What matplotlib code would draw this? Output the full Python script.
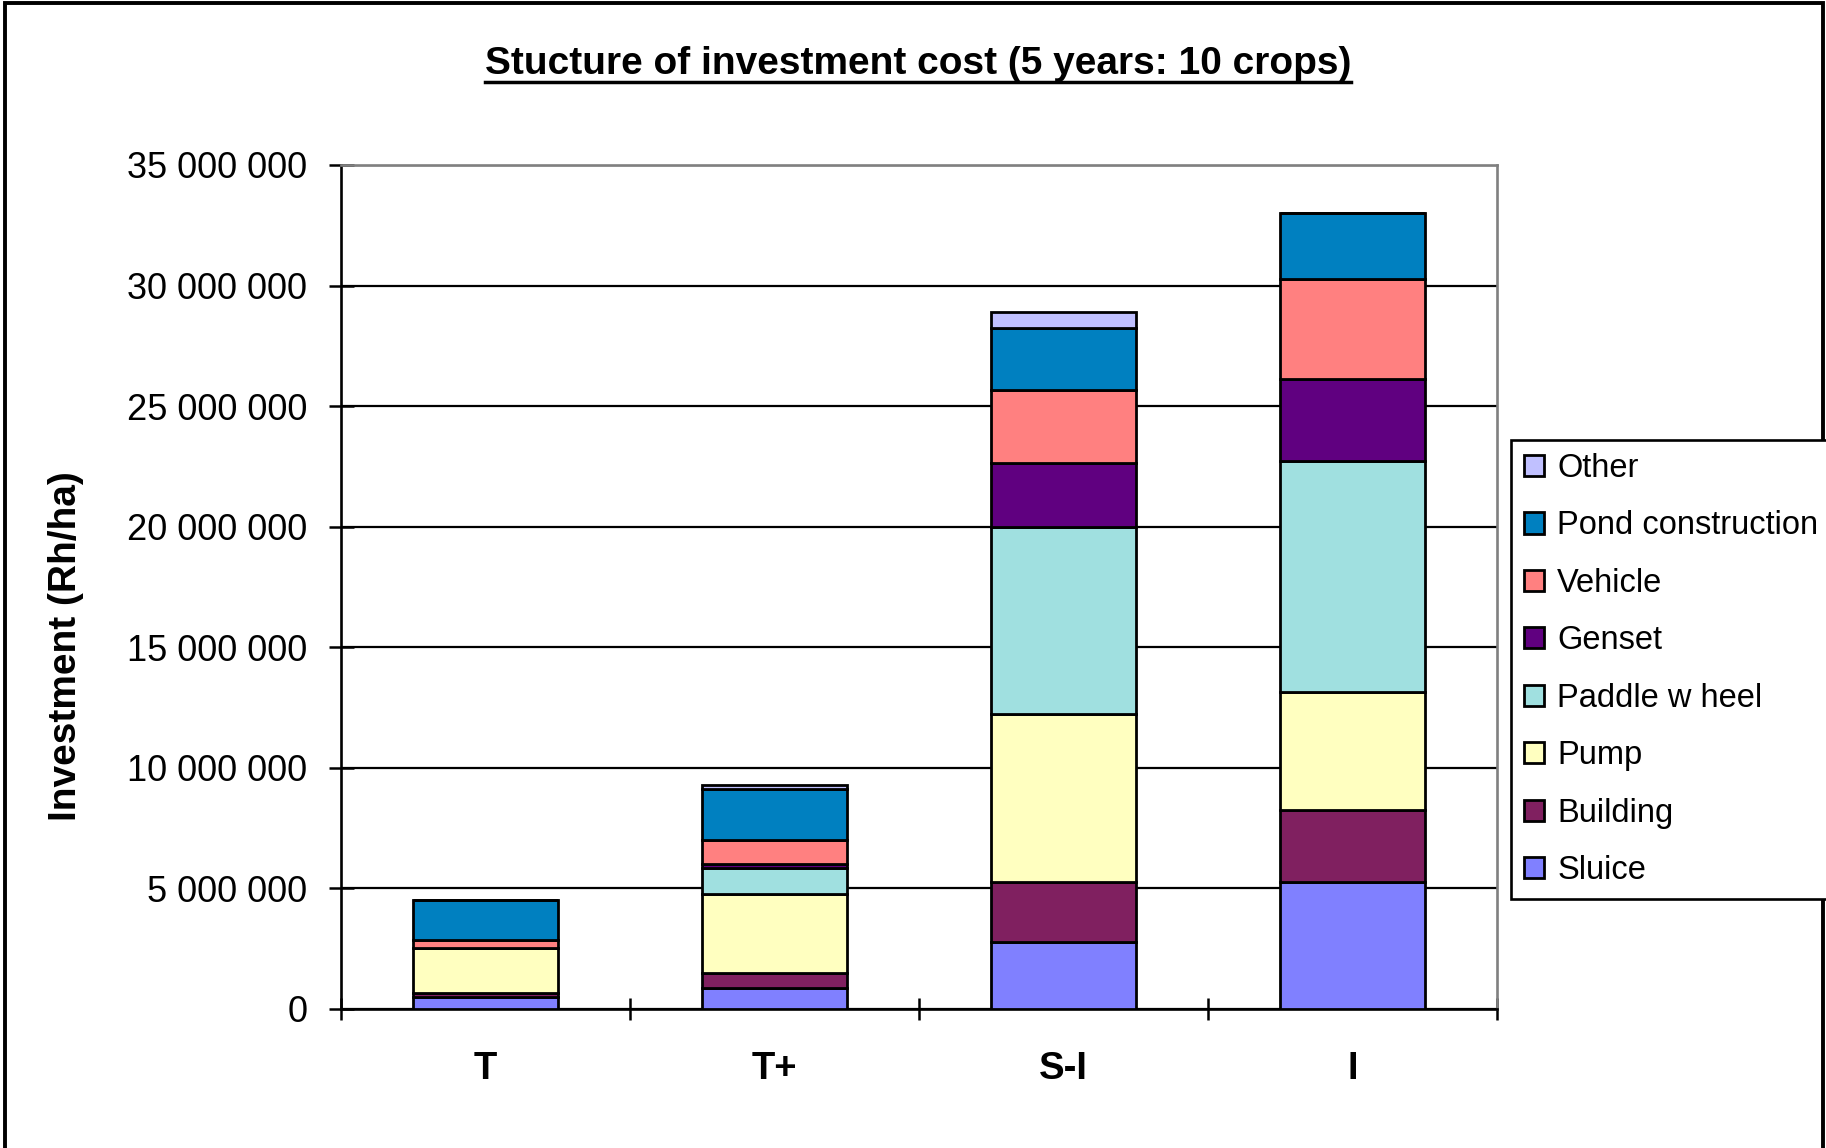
import numpy as np
import matplotlib
matplotlib.use('Agg')
import matplotlib.pyplot as plt
from matplotlib.ticker import FuncFormatter
from matplotlib.lines import Line2D
from matplotlib.patches import Rectangle

plt.rcParams['font.family'] = ['Liberation Sans', 'DejaVu Sans']

# datos (Rh/ha)
categorias = ['T', 'T+', 'S-I', 'I']
sluice   = [490000, 860000, 2760000, 5260000]
building = [160000, 630000, 2500000, 3000000]
pump     = [1880000, 3260000, 6960000, 4870000]
paddle   = [0, 1100000, 7780000, 9610000]
genset   = [0, 180000, 2630000, 3400000]
vehicle  = [350000, 980000, 3030000, 4140000]
pond     = [1630000, 2100000, 2600000, 2730000]
other    = [0, 180000, 640000, 0]

series = ['Sluice', 'Building', 'Pump', 'Paddle w heel', 'Genset', 'Vehicle', 'Pond construction', 'Other']
valores = [sluice, building, pump, paddle, genset, vehicle, pond, other]
colores = ['#8080FF', '#802060', '#FFFFC0', '#A0E0E0', '#600080', '#FF8080', '#0080C0', '#C0C0FF']

W, H = 1826, 1148
fig = plt.figure(figsize=(W/100, H/100), dpi=100)
ax = fig.add_axes([340.7/W, 1-1009/H, (1497-340.7)/W, (1009-165)/H])

x = np.arange(len(categorias))
base = np.zeros(len(categorias))
for nombre, val, col in zip(series, valores, colores):
    ax.bar(x, val, width=0.5, bottom=base, color=col, edgecolor='black', linewidth=2.0, label=nombre, zorder=3)
    base = base + np.array(val)

#-------------------------configuración estilo-------------------------
ax.set_xlim(-0.5, 3.5)
ax.set_ylim(0, 35000000)
ax.set_yticks(np.arange(0, 35000001, 5000000))
ax.yaxis.set_major_formatter(FuncFormatter(lambda v, p: f"{int(v):,}".replace(",", " ")))
ax.yaxis.grid(True, color='black', linewidth=1.6)
ax.set_axisbelow(True)

ax.set_xticks([-0.5, 0.5, 1.5, 2.5, 3.5])
ax.set_xticklabels([])
ax.set_xticks(x, labels=categorias, minor=True)
ax.tick_params(axis='x', which='minor', length=0, pad=30, labelsize=27.5)
for t in ax.get_xticklabels(minor=True):
    t.set_fontweight('bold')
ax.tick_params(axis='x', which='major', direction='inout', length=16, width=1.8)
ax.tick_params(axis='y', direction='inout', length=18, width=1.8, labelsize=26, pad=15)

for s in ['left', 'bottom']:
    ax.spines[s].set_color('black')
    ax.spines[s].set_linewidth(1.9)
for s in ['top', 'right']:
    ax.spines[s].set_color('#808080')
    ax.spines[s].set_linewidth(1.9)

fig.text(66/W, 1-646/H, 'Investment (Rh/ha)', rotation=90, ha='center', va='center',
         fontsize=28, fontweight='bold')

titulo = fig.text(918/W, 1-64/H, 'Stucture of investment cost (5 years: 10 crops)',
                  ha='center', va='center', fontsize=28, fontweight='bold')

h, l = ax.get_legend_handles_labels()
leg = fig.legend(h[::-1], l[::-1], loc='upper left', bbox_to_anchor=(1511/W, 1-440/H),
                 borderaxespad=0, fontsize=23.5, frameon=True, fancybox=False,
                 edgecolor='black', framealpha=1, handlelength=0.62, handleheight=0.62,
                 handletextpad=0.4, labelspacing=0.81, borderpad=0.4)
leg.get_frame().set_linewidth(1.9)

# subrayado del titulo
fig.canvas.draw()
bb = titulo.get_window_extent().transformed(fig.transFigure.inverted())
fig.add_artist(Line2D([bb.x0, bb.x1], [1-82/H, 1-82/H], color='black', linewidth=2.5,
                      transform=fig.transFigure))

# marco exterior
fig.add_artist(Rectangle((5/W, -0.05), (1823-5)/W, 1.05-3/H, fill=False, edgecolor='black',
                         linewidth=2.8, transform=fig.transFigure))

fig.savefig('out.png', dpi=100)
